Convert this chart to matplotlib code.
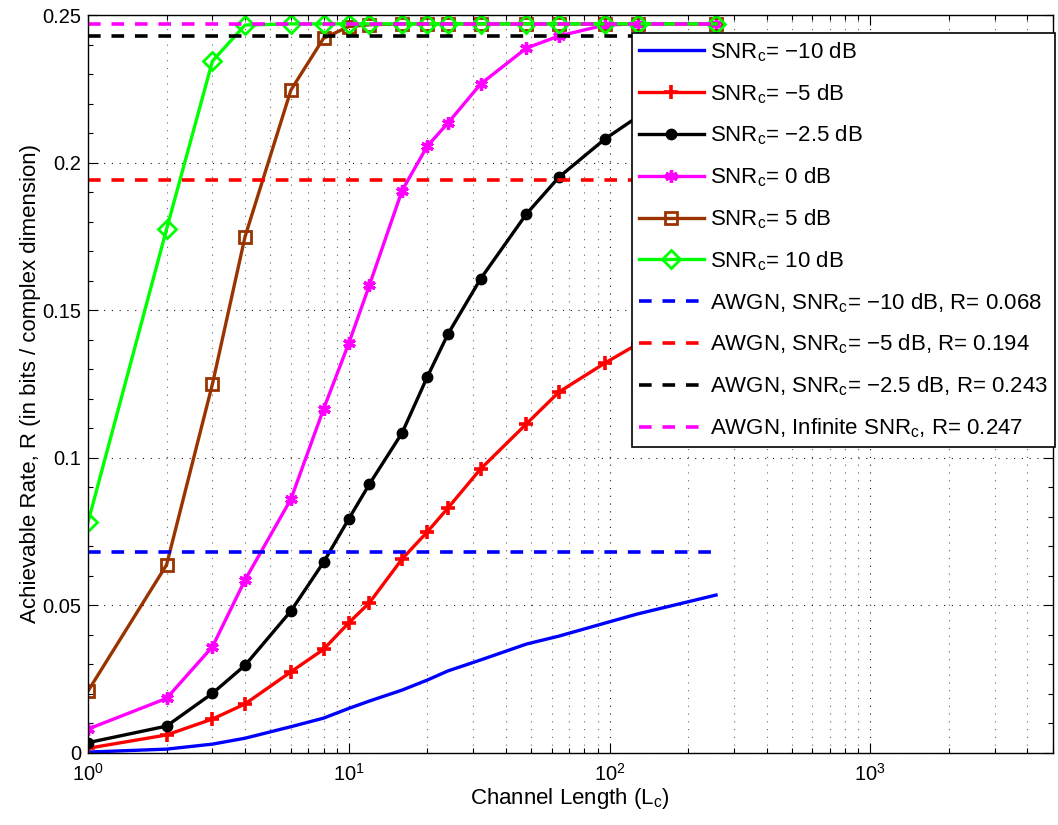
import numpy as np
import matplotlib
matplotlib.use("Agg")
from matplotlib import pyplot as plt
from matplotlib.ticker import LogLocator, FixedLocator, FuncFormatter, NullFormatter

plt.rcParams['font.family'] = ['Liberation Sans', 'DejaVu Sans']
plt.rcParams['mathtext.fontset'] = 'custom'
plt.rcParams['mathtext.rm'] = 'Liberation Sans'
plt.rcParams['mathtext.it'] = 'Liberation Sans'
plt.rcParams['mathtext.default'] = 'rm'

# channel lengths
Lc = [1, 2, 3, 4, 6, 8, 10, 12, 16, 20, 24, 32, 48, 64, 96, 128, 256]

# achievable rate for each channel SNR
R_m10 = [0.0003, 0.0013, 0.0030, 0.0050, 0.0089, 0.0118, 0.0151, 0.0176, 0.0213,
         0.0247, 0.0278, 0.0315, 0.0369, 0.0396, 0.0440, 0.0471, 0.0535]
R_m5 = [0.0016, 0.0061, 0.0115, 0.0166, 0.0275, 0.0351, 0.0441, 0.0509, 0.0657,
        0.0749, 0.0830, 0.0962, 0.1115, 0.1223, 0.1321, 0.1385, 0.1550]
R_m25 = [0.0035, 0.0091, 0.0202, 0.0297, 0.0481, 0.0646, 0.0793, 0.0911, 0.1084,
         0.1274, 0.1419, 0.1606, 0.1826, 0.1951, 0.2080, 0.2155, 0.2285]
R_0 = [0.0081, 0.0185, 0.0360, 0.0586, 0.0860, 0.1165, 0.1388, 0.1585, 0.1905,
       0.2056, 0.2134, 0.2266, 0.2388, 0.2429, 0.2466, 0.2470, 0.2470]
R_5 = [0.0210, 0.0637, 0.1250, 0.1749, 0.2246, 0.2421, 0.2461, 0.2467, 0.2470,
       0.2470, 0.2470, 0.2470, 0.2470, 0.2470, 0.2470, 0.2470, 0.2470]
R_10 = [0.0782, 0.1774, 0.2344, 0.2466, 0.2470, 0.2470, 0.2470, 0.2470, 0.2470,
        0.2470, 0.2470, 0.2470, 0.2470, 0.2470, 0.2470, 0.2470, 0.2470]

# AWGN reference rates
awgn_m10 = 0.068
awgn_m5 = 0.194
awgn_m25 = 0.243
awgn_inf = 0.247

fig = plt.figure(figsize=(10.58, 8.25), dpi=100)
ax = fig.add_axes([0.0832, 0.0873, 0.9117, 0.8945])

lw = 2.4
ax.plot(Lc, R_m10, color='#0000ff', lw=lw, label=r'SNR$_{c}$= $-$10 dB')
ax.plot(Lc, R_m5, color='#ff0000', lw=lw, marker='+', ms=10, mew=2.6,
        label=r'SNR$_{c}$= $-$5 dB')
ax.plot(Lc, R_m25, color='k', lw=lw, marker='o', ms=7.5,
        label=r'SNR$_{c}$= $-$2.5 dB')
ax.plot(Lc, R_0, color='#ff00ff', lw=lw, marker=(6, 2, 0), ms=9, mew=2.4,
        label=r'SNR$_{c}$= 0 dB')
ax.plot(Lc, R_5, color='#993300', lw=lw, marker='s', ms=8.5, mew=2.0, mfc='none',
        label=r'SNR$_{c}$= 5 dB')
ax.plot(Lc, R_10, color='#00ff00', lw=lw, marker='D', ms=9, mew=2.0, mfc='none',
        label=r'SNR$_{c}$= 10 dB')

dash = (3.5, 3.0)
ax.plot([Lc[0], Lc[-1]], [awgn_m10, awgn_m10], color='#0000ff', lw=2.6, dashes=dash,
        label=r'AWGN, SNR$_{c}$= $-$10 dB, R= 0.068')
ax.plot([Lc[0], Lc[-1]], [awgn_m5, awgn_m5], color='#ff0000', lw=2.6, dashes=dash,
        label=r'AWGN, SNR$_{c}$= $-$5 dB, R= 0.194')
ax.plot([Lc[0], Lc[-1]], [awgn_m25, awgn_m25], color='k', lw=2.6, dashes=dash,
        label=r'AWGN, SNR$_{c}$= $-$2.5 dB, R= 0.243')
ax.plot([Lc[0], Lc[-1]], [awgn_inf, awgn_inf], color='#ff00ff', lw=2.6, dashes=dash,
        label=r'AWGN, Infinite SNR$_{c}$, R= 0.247')

ax.set_xscale('log')
ax.set_xlim(1, 5000)
ax.set_ylim(0, 0.25)
ax.yaxis.set_major_locator(FixedLocator([0, 0.05, 0.1, 0.15, 0.2, 0.25]))
ax.yaxis.set_major_formatter(FuncFormatter(lambda v, p: '%g' % v))
ax.yaxis.set_minor_locator(FixedLocator(np.arange(0, 0.2501, 0.01)))
ax.xaxis.set_minor_locator(LogLocator(base=10, subs=np.arange(2, 10), numticks=20))
ax.xaxis.set_minor_formatter(NullFormatter())

ax.tick_params(which='both', direction='in', top=True, right=True, labelsize=14.5,
               width=0.8, colors='k')
ax.tick_params(which='major', length=7)
ax.tick_params(which='minor', length=3.5)
ax.tick_params(axis='x', pad=7)
ax.tick_params(axis='y', pad=5)

ax.grid(which='major', color='k', ls=(0, (1, 6)), lw=0.8, alpha=0.9)
ax.grid(which='minor', axis='x', color='k', ls=(0, (1, 6)), lw=0.8, alpha=0.6)
for s in ax.spines.values():
    s.set_linewidth(1.0)

ax.set_xlabel(r'Channel Length (L$_{c}$)', fontsize=16, labelpad=1)
ax.set_ylabel('Achievable Rate, R (in bits / complex dimension)', fontsize=16, labelpad=1)

leg = ax.legend(loc='upper left', bbox_to_anchor=(0.564, 0.9756), borderaxespad=0,
                fontsize=16, numpoints=1, handlelength=2.9, handletextpad=0.3,
                labelspacing=0.82, borderpad=0.32, fancybox=False, framealpha=1,
                edgecolor='k')
leg.get_frame().set_linewidth(1.2)
leg.set_zorder(5)

fig.savefig('out.png', dpi=100)
